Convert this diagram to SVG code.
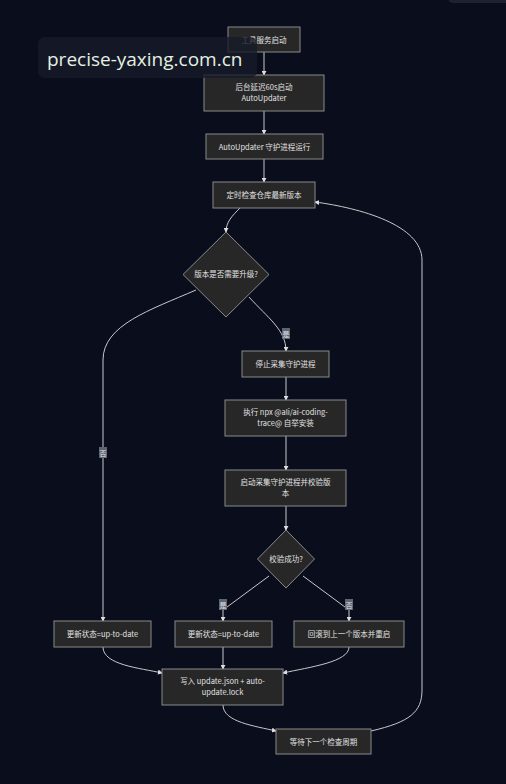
<svg xmlns="http://www.w3.org/2000/svg" width="506" height="784" viewBox="0 0 506 784">
<defs>
<style>
.n{fill:#272727;stroke:#8a8a8a;stroke-width:1}
.t{font-family:"Noto Sans CJK SC","Noto Sans",sans-serif;font-size:7.5px;fill:#e2e2e2;text-anchor:middle}
.e{fill:none;stroke:#c8c8cc;stroke-width:1}
.lb{fill:#5d6472}
.lt{font-family:"Noto Sans CJK SC",sans-serif;font-size:7px;fill:#e8e8e8;text-anchor:middle}
</style>
<marker id="a" viewBox="0 0 6 6" refX="5" refY="3" markerWidth="5" markerHeight="5" orient="auto">
<path d="M0,0L6,3L0,6z" fill="#e0e0e0"/>
</marker>
</defs>
<rect width="506" height="784" fill="#0a0e1c"/>
<rect x="448" y="-10" width="70" height="13" rx="5" fill="#1d2230"/>
<g id="edges">
<path class="e" marker-end="url(#a)" d="M264,52V75"/>
<path class="e" marker-end="url(#a)" d="M264,111V134"/>
<path class="e" marker-end="url(#a)" d="M264,159V182"/>
<path class="e" marker-end="url(#a)" d="M240,208C232,216 226,222 226,232"/>
<path class="e" marker-end="url(#a)" d="M249,297C268,318 286,330 286,351"/>
<path class="e" marker-end="url(#a)" d="M196,290C150,310 103,325 103,360V621"/>
<path class="e" marker-end="url(#a)" d="M286,377V400"/>
<path class="e" marker-end="url(#a)" d="M286,436V470"/>
<path class="e" marker-end="url(#a)" d="M286,506V530"/>
<path class="e" marker-end="url(#a)" d="M269,576L223,610V621"/>
<path class="e" marker-end="url(#a)" d="M303,576L349,610V621"/>
<path class="e" marker-end="url(#a)" d="M103,647C103,665 140,668 162,673"/>
<path class="e" marker-end="url(#a)" d="M223,647V669"/>
<path class="e" marker-end="url(#a)" d="M349,647C349,662 310,667 283,673"/>
<path class="e" marker-end="url(#a)" d="M223,705C223,722 255,726 276,731"/>
<path class="e" marker-end="url(#a)" d="M371,731C410,722 422,712 422,690V260C422,225 360,208 315,202"/>
<rect class="lb" x="282" y="328" width="8" height="11"/><text class="lt" x="286" y="336.5">是</text>
<rect class="lb" x="99" y="447" width="8" height="11"/><text class="lt" x="103" y="455.5">否</text>
<rect class="lb" x="219" y="599" width="8" height="11"/><text class="lt" x="223" y="607.5">是</text>
<rect class="lb" x="345" y="599" width="8" height="11"/><text class="lt" x="349" y="607.5">否</text>
</g>
<g id="n1"><rect class="n" x="228" y="27" width="72" height="25"/><text class="t" x="264" y="42.5">工具服务启动</text></g>
<g id="n2"><rect class="n" x="204" y="75" width="120" height="36"/><text class="t" x="264" y="90">后台延迟60s启动</text><text class="t" x="264" y="101">AutoUpdater</text></g>
<g id="n3"><rect class="n" x="206" y="134" width="117" height="25"/><text class="t" x="264.5" y="149.5">AutoUpdater 守护进程运行</text></g>
<g id="n4"><rect class="n" x="213" y="182" width="102" height="26"/><text class="t" x="264" y="197.5">定时检查仓库最新版本</text></g>
<g id="d1"><path class="n" d="M226,232L269,274.5L226,317L183,274.5Z"/><text class="t" x="226" y="277">版本是否需要升级?</text></g>
<g id="n5"><rect class="n" x="242" y="351" width="87" height="26"/><text class="t" x="285.5" y="366.5">停止采集守护进程</text></g>
<g id="n6"><rect class="n" x="225" y="400" width="121" height="36"/><text class="t" x="285.5" y="415">执行 npx @ali/ai-coding-</text><text class="t" x="285.5" y="426">trace@ 自举安装</text></g>
<g id="n7"><rect class="n" x="225" y="470" width="121" height="36"/><text class="t" x="285.5" y="485">启动采集守护进程并校验版</text><text class="t" x="285.5" y="496">本</text></g>
<g id="d2"><path class="n" d="M286,530L314.5,559L286,588L257.5,559Z"/><text class="t" x="286" y="561.5">校验成功?</text></g>
<g id="n8"><rect class="n" x="54" y="621" width="97" height="26"/><text class="t" x="102.5" y="636.5">更新状态=up-to-date</text></g>
<g id="n9"><rect class="n" x="175" y="621" width="97" height="26"/><text class="t" x="223.5" y="636.5">更新状态=up-to-date</text></g>
<g id="n10"><rect class="n" x="294" y="621" width="110" height="26"/><text class="t" x="349" y="636.5">回滚到上一个版本并重启</text></g>
<g id="n11"><rect class="n" x="162" y="669" width="121" height="36"/><text class="t" x="222.5" y="684">写入 update.json + auto-</text><text class="t" x="222.5" y="695">update.lock</text></g>
<g id="n12"><rect class="n" x="276" y="729" width="95" height="25"/><text class="t" x="323.5" y="744.5">等待下一个检查周期</text></g>
<g id="watermark">
<rect x="38" y="37" width="219" height="41" rx="7" fill="#171b29" fill-opacity="0.8"/>
<text x="47" y="66" font-family="'Open Sans','Noto Sans',sans-serif" font-size="19" fill="#e4f0e2">precise-yaxing.com.cn</text>
</g>
</svg>
